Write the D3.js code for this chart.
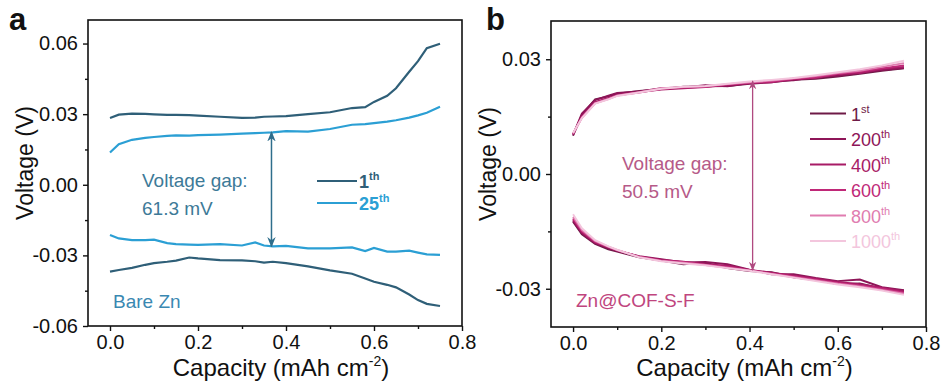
<!DOCTYPE html>
<meta charset="utf-8">
<script src="https://cdn.jsdelivr.net/npm/d3@7"></script>
<style>
body { margin: 0; background: #fff; }
text { font-family: "Liberation Sans", Arial, sans-serif; }
.tick text { font-size: 20px; fill: #111; }
.tick line { stroke: #111; stroke-width: 1.4px; }
</style>
<body>
<script>

// ---- panel a data (Bare Zn) ----
var capA = [0, 0.02, 0.05, 0.08, 0.1, 0.13, 0.15, 0.18, 0.2, 0.25, 0.3, 0.33, 0.35,
            0.37, 0.4, 0.45, 0.5, 0.55, 0.58, 0.6, 0.63, 0.65, 0.68, 0.7, 0.72, 0.75];
var a1Charge = [0.0284, 0.0298, 0.0302, 0.0301, 0.0299, 0.0297, 0.0297, 0.0296, 0.0294, 0.0289, 0.0284, 0.0285, 0.0289,
                0.0290, 0.0292, 0.0300, 0.0308, 0.0326, 0.0330, 0.0352, 0.0378, 0.0410, 0.0480, 0.0525, 0.0580, 0.0599];
var a25Charge = [0.0137, 0.0172, 0.0191, 0.0199, 0.0203, 0.0208, 0.0210, 0.0209, 0.0211, 0.0213, 0.0217, 0.0219, 0.0221,
                 0.0223, 0.0228, 0.0226, 0.0237, 0.0255, 0.0258, 0.0262, 0.0268, 0.0274, 0.0285, 0.0295, 0.0306, 0.0331];
var a1Discharge = [-0.0369, -0.0362, -0.0353, -0.0340, -0.0333, -0.0327, -0.0322, -0.0309, -0.0313, -0.0320, -0.0321, -0.0325, -0.0331,
                   -0.0327, -0.0333, -0.0347, -0.0364, -0.0378, -0.0398, -0.0412, -0.0425, -0.0436, -0.0466, -0.0490, -0.0506, -0.0515];
var a25Discharge = [-0.0213, -0.0228, -0.0235, -0.0235, -0.0233, -0.0248, -0.0252, -0.0254, -0.0255, -0.0252, -0.0258, -0.0245, -0.0258,
                    -0.0262, -0.0260, -0.0270, -0.0270, -0.0266, -0.0282, -0.0268, -0.0284, -0.0284, -0.0280, -0.0288, -0.0296, -0.0298];
var cyclesA = ["1", "25"];
var colorsA = ["#2f5f78", "#2b9fd4"];

// ---- panel b data (Zn@COF-S-F) ----
var capB = [0, 0.02, 0.05, 0.08, 0.1, 0.15, 0.2, 0.25, 0.3, 0.35, 0.4, 0.45, 0.5, 0.55, 0.6, 0.65, 0.7, 0.75];
var bCharge = [
  [0.0100, 0.0155, 0.0195, 0.0203, 0.0210, 0.0217, 0.0222, 0.0228, 0.0229, 0.0230, 0.0236, 0.0240, 0.0246, 0.0249, 0.0255, 0.0262, 0.0270, 0.0276],
  [0.0102, 0.0158, 0.0193, 0.0205, 0.0212, 0.0216, 0.0224, 0.0226, 0.0232, 0.0229, 0.0238, 0.0243, 0.0245, 0.0254, 0.0257, 0.0265, 0.0272, 0.0277],
  [0.0104, 0.0150, 0.0188, 0.0199, 0.0207, 0.0214, 0.0221, 0.0224, 0.0227, 0.0233, 0.0237, 0.0240, 0.0248, 0.0251, 0.0261, 0.0264, 0.0275, 0.0280],
  [0.0105, 0.0148, 0.0186, 0.0197, 0.0206, 0.0213, 0.0223, 0.0226, 0.0228, 0.0234, 0.0239, 0.0242, 0.0249, 0.0253, 0.0262, 0.0268, 0.0276, 0.0284],
  [0.0106, 0.0147, 0.0185, 0.0196, 0.0205, 0.0214, 0.0224, 0.0227, 0.0229, 0.0235, 0.0240, 0.0244, 0.0250, 0.0256, 0.0264, 0.0270, 0.0280, 0.0290],
  [0.0107, 0.0146, 0.0184, 0.0195, 0.0204, 0.0213, 0.0223, 0.0228, 0.0230, 0.0236, 0.0242, 0.0246, 0.0251, 0.0258, 0.0266, 0.0274, 0.0284, 0.0296]
];
var bDischarge = [
  [-0.0125, -0.0158, -0.0183, -0.0197, -0.0203, -0.0218, -0.0226, -0.0236, -0.0232, -0.0246, -0.0254, -0.0257, -0.0270, -0.0277, -0.0288, -0.0286, -0.0300, -0.0305],
  [-0.0122, -0.0155, -0.0181, -0.0194, -0.0201, -0.0215, -0.0223, -0.0231, -0.0230, -0.0236, -0.0250, -0.0262, -0.0262, -0.0272, -0.0280, -0.0276, -0.0296, -0.0304],
  [-0.0119, -0.0152, -0.0179, -0.0192, -0.0200, -0.0216, -0.0225, -0.0229, -0.0236, -0.0240, -0.0251, -0.0258, -0.0266, -0.0274, -0.0282, -0.0288, -0.0297, -0.0307],
  [-0.0116, -0.0149, -0.0177, -0.0191, -0.0199, -0.0216, -0.0226, -0.0230, -0.0237, -0.0243, -0.0252, -0.0260, -0.0268, -0.0276, -0.0285, -0.0292, -0.0300, -0.0310],
  [-0.0112, -0.0146, -0.0175, -0.0190, -0.0199, -0.0217, -0.0227, -0.0232, -0.0238, -0.0245, -0.0252, -0.0261, -0.0270, -0.0278, -0.0287, -0.0294, -0.0303, -0.0313],
  [-0.0105, -0.0142, -0.0173, -0.0189, -0.0198, -0.0218, -0.0228, -0.0234, -0.0239, -0.0246, -0.0253, -0.0262, -0.0271, -0.0280, -0.0289, -0.0296, -0.0305, -0.0316]
];
var cyclesB = ["1", "200", "400", "600", "800", "1000"];
var suffixB = ["st", "th", "th", "th", "th", "th"];
var colorsB = ["#6e1a47", "#8e1558", "#a81b66", "#c02878", "#e07cb0", "#f3c6dd"];

// tick values
var xTicks = [0, 0.2, 0.4, 0.6, 0.8];
var xMinor = [0.1, 0.3, 0.5, 0.7];
var yTicksA = [-0.06, -0.03, 0, 0.03, 0.06];
var yMinorA = [-0.045, -0.015, 0.015, 0.045];
var yTicksB = [-0.03, 0, 0.03];
var yMinorB = [-0.015, 0.015];

var svg = d3.select("body").append("svg")
    .attr("width", 943)
    .attr("height", 385);

var defs = svg.append("defs");
function marker(id, col) {
  defs.append("marker").attr("id", id)
    .attr("viewBox", "0 0 10 10").attr("refX", 9).attr("refY", 5)
    .attr("markerWidth", 7).attr("markerHeight", 7)
    .attr("orient", "auto-start-reverse")
    .append("path").attr("d", "M0,1 L10,5 L0,9 L3,5 Z").attr("fill", col);
}
marker("arrA", "#2f6e8c");
marker("arrB", "#b04a80");

function panel(opt) {
  var x = d3.scaleLinear().domain([-0.05, 0.8]).range([opt.left, opt.right]);
  var y = d3.scaleLinear().domain(opt.ydom).range([opt.bottom, opt.top]);
  var g = svg.append("g");

  var line = d3.line()
      .x(function(d) { return x(d[0]); })
      .y(function(d) { return y(d[1]); });

  // axes
  g.append("g").attr("transform", "translate(0," + opt.bottom + ")")
    .call(d3.axisBottom(x).tickValues(xTicks).tickSize(5).tickPadding(4)
      .tickFormat(function(d) { return d.toFixed(1); }));
  g.append("g").attr("transform", "translate(0," + opt.bottom + ")")
    .call(d3.axisBottom(x).tickValues(xMinor).tickSize(3).tickFormat(""));
  g.append("g").attr("transform", "translate(" + opt.left + ",0)")
    .call(d3.axisLeft(y).tickValues(opt.yticks).tickSize(5).tickPadding(5)
      .tickFormat(function(d) { return d.toFixed(2); }));
  g.append("g").attr("transform", "translate(" + opt.left + ",0)")
    .call(d3.axisLeft(y).tickValues(opt.yminor).tickSize(3).tickFormat(""));
  g.selectAll(".domain").remove();

  g.append("rect")
    .attr("x", opt.left).attr("y", opt.top)
    .attr("width", opt.right - opt.left).attr("height", opt.bottom - opt.top)
    .attr("fill", "none").attr("stroke", "#111").attr("stroke-width", 1.6);

  // axis titles
  var xt = g.append("text")
    .attr("x", (opt.left + opt.right) / 2 + 6).attr("y", 376)
    .attr("text-anchor", "middle").attr("font-size", 24).attr("fill", "#111")
    .text("Capacity (mAh cm");
  xt.append("tspan").attr("font-size", 14).attr("dy", -10).text("-2");
  xt.append("tspan").attr("dy", 10).text(")");

  g.append("text")
    .attr("transform", "translate(" + (opt.left - 55) + "," + ((opt.top + opt.bottom) / 2 - 10) + ") rotate(-90)")
    .attr("text-anchor", "middle").attr("font-size", 23).attr("fill", "#111")
    .text("Voltage (V)");

  g.append("text")
    .attr("x", opt.labelX).attr("y", 30)
    .attr("font-size", 31).attr("font-weight", "bold").attr("fill", "#111")
    .text(opt.label);

  return {g: g, x: x, y: y, line: line};
}

// ---- panel a ----
var pa = panel({left: 88, right: 462, top: 20, bottom: 326, ydom: [-0.06, 0.07],
                yticks: yTicksA, yminor: yMinorA, label: "a", labelX: 9});

var seriesA = [
  [a1Charge, a1Discharge],
  [a25Charge, a25Discharge]
];
seriesA.forEach(function(s, i) {
  s.forEach(function(vals) {
    pa.g.append("path")
      .datum(capA.map(function(c, k) { return [c, vals[k]]; }))
      .attr("d", pa.line)
      .attr("fill", "none")
      .attr("stroke", colorsA[i])
      .attr("stroke-width", 2.2);
  });
});

pa.g.append("line")
  .attr("x1", pa.x(0.367)).attr("x2", pa.x(0.367))
  .attr("y1", pa.y(0.0224)).attr("y2", pa.y(-0.0262))
  .attr("stroke", "#2f6e8c").attr("stroke-width", 1.5)
  .attr("marker-start", "url(#arrA)").attr("marker-end", "url(#arrA)");

pa.g.append("text").attr("x", 142).attr("y", 187)
  .attr("font-size", 19).attr("fill", "#3d7a98").text("Voltage gap:");
pa.g.append("text").attr("x", 142).attr("y", 215)
  .attr("font-size", 19).attr("fill", "#3d7a98").text("61.3 mV");
pa.g.append("text").attr("x", 113).attr("y", 308)
  .attr("font-size", 19).attr("fill", "#3a88b2").text("Bare Zn");

cyclesA.forEach(function(c, i) {
  var yy = 181 + i * 22;
  pa.g.append("line")
    .attr("x1", 317).attr("x2", 357).attr("y1", yy).attr("y2", yy)
    .attr("stroke", colorsA[i]).attr("stroke-width", 2);
  var t = pa.g.append("text").attr("x", 359).attr("y", yy + 7)
    .attr("font-size", 18).attr("font-weight", "bold").attr("fill", colorsA[i])
    .text(c);
  t.append("tspan").attr("font-size", 11).attr("dy", -8).text("th");
});

// ---- panel b ----
var pb = panel({left: 551, right: 926, top: 21, bottom: 327, ydom: [-0.04, 0.04],
                yticks: yTicksB, yminor: yMinorB, label: "b", labelX: 486});

cyclesB.forEach(function(c, i) {
  [bCharge[i], bDischarge[i]].forEach(function(vals) {
    pb.g.append("path")
      .datum(capB.map(function(cc, k) { return [cc, vals[k]]; }))
      .attr("d", pb.line)
      .attr("fill", "none")
      .attr("stroke", colorsB[i])
      .attr("stroke-width", 1.9);
  });
});

pb.g.append("line")
  .attr("x1", pb.x(0.407)).attr("x2", pb.x(0.407))
  .attr("y1", pb.y(0.0243)).attr("y2", pb.y(-0.0251))
  .attr("stroke", "#b04a80").attr("stroke-width", 1.3)
  .attr("marker-start", "url(#arrB)").attr("marker-end", "url(#arrB)");

pb.g.append("text").attr("x", 622).attr("y", 170)
  .attr("font-size", 19).attr("fill", "#b65a88").text("Voltage gap:");
pb.g.append("text").attr("x", 622).attr("y", 198)
  .attr("font-size", 19).attr("fill", "#b65a88").text("50.5 mV");
pb.g.append("text").attr("x", 576).attr("y", 307)
  .attr("font-size", 19).attr("fill", "#c0457e").text("Zn@COF-S-F");

cyclesB.forEach(function(c, i) {
  var yy = 113.5 + i * 25.5;
  pb.g.append("line")
    .attr("x1", 810).attr("x2", 846).attr("y1", yy).attr("y2", yy)
    .attr("stroke", colorsB[i]).attr("stroke-width", 2);
  var t = pb.g.append("text").attr("x", 851).attr("y", yy + 7)
    .attr("font-size", 18).attr("fill", colorsB[i])
    .text(c);
  t.append("tspan").attr("font-size", 11).attr("dy", -8).text(suffixB[i]);
});

</script>
</body>
